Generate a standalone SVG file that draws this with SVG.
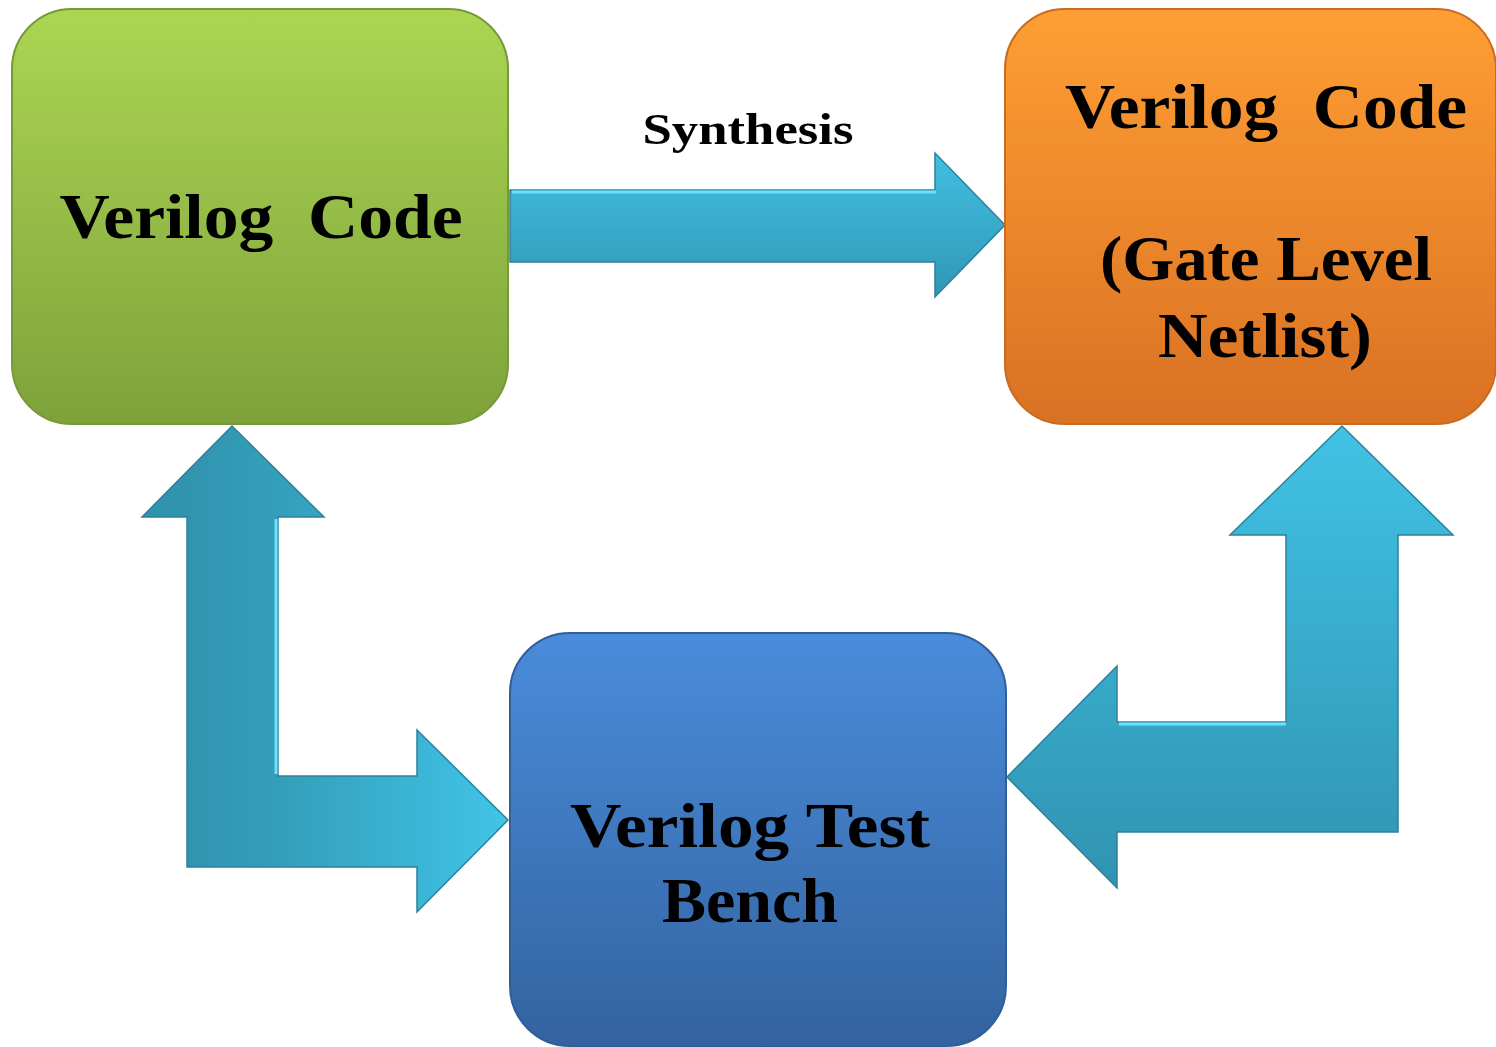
<svg xmlns="http://www.w3.org/2000/svg" width="1496" height="1047" viewBox="0 0 1496 1047">
  <defs>
    <linearGradient id="gGreen" x1="0" y1="0" x2="0" y2="1">
      <stop offset="0" stop-color="#abd652"/>
      <stop offset="1" stop-color="#7ea23b"/>
    </linearGradient>
    <linearGradient id="gOrange" x1="0" y1="0" x2="0" y2="1">
      <stop offset="0" stop-color="#ff9e34"/>
      <stop offset="1" stop-color="#d97123"/>
    </linearGradient>
    <linearGradient id="gBlue" x1="0" y1="0" x2="0" y2="1">
      <stop offset="0" stop-color="#4a8cdb"/>
      <stop offset="1" stop-color="#33639f"/>
    </linearGradient>
    <linearGradient id="aTop" x1="0" y1="0" x2="0" y2="1">
      <stop offset="0" stop-color="#41bfe2"/>
      <stop offset="1" stop-color="#3197b4"/>
    </linearGradient>
    <linearGradient id="aLeft" gradientUnits="userSpaceOnUse" x1="187" y1="0" x2="508" y2="0">
      <stop offset="0" stop-color="#3194af"/>
      <stop offset="0.3" stop-color="#349fbb"/>
      <stop offset="1" stop-color="#41c4e7"/>
    </linearGradient>
    <linearGradient id="aRight" gradientUnits="userSpaceOnUse" x1="0" y1="426" x2="0" y2="888">
      <stop offset="0" stop-color="#41c2e5"/>
      <stop offset="1" stop-color="#3093b0"/>
    </linearGradient>
  </defs>
  <style>
    .box { stroke-width: 2; }
    .arrow { stroke: #2c8199; stroke-width: 1.5; stroke-linejoin: miter; }
    .hl { fill: none; stroke: #6fe0fb; stroke-width: 3; stroke-linejoin: miter; }
    .t { font-family: "Liberation Serif", "Times New Roman", serif; font-weight: bold; fill: #000; text-anchor: middle; }
  </style>
  <rect width="1496" height="1047" fill="#ffffff"/>

  <g id="connectors">
    <g id="synthesis-arrow">
      <polygon class="arrow" fill="url(#aTop)" points="510,190 935,190 935,153 1005,225 935,297 935,262 510,262"/>
      <polyline class="hl" points="512,192 936,192"/>
      <text class="t" x="748" y="144" font-size="44" textLength="211" lengthAdjust="spacingAndGlyphs">Synthesis</text>
    </g>
    <g id="left-arrow">
      <polygon class="arrow" fill="url(#aLeft)" points="232,426 324,517 278,517 278,776 417,776 417,730 508,820 417,912 417,867 187,867 187,517 142,517"/>
      <polyline class="hl" points="276,519 276,774"/>
    </g>
    <g id="right-arrow">
      <polygon class="arrow" fill="url(#aRight)" points="1342,426 1453,535 1398,535 1398,832 1117,832 1117,888 1007,777 1117,666 1117,722 1286,722 1286,535 1230,535"/>
      <polyline class="hl" points="1119,724 1286,724"/>
    </g>
  </g>

  <g id="node-verilog-code">
    <rect class="box" x="12" y="9" width="496" height="415" rx="60" ry="60" fill="url(#gGreen)" stroke="#77993a"/>
    <text class="t" x="261" y="238" font-size="64" textLength="403" lengthAdjust="spacingAndGlyphs">Verilog&#160; Code</text>
  </g>

  <g id="node-gate-level">
    <rect class="box" x="1005" y="9" width="491" height="415" rx="60" ry="60" fill="url(#gOrange)" stroke="#c96c22"/>
    <text class="t" x="1266" y="128" font-size="64" textLength="402" lengthAdjust="spacingAndGlyphs">Verilog&#160; Code</text>
    <text class="t" x="1266" y="280" font-size="64" textLength="332" lengthAdjust="spacingAndGlyphs">(Gate Level</text>
    <text class="t" x="1265" y="357" font-size="64" textLength="214" lengthAdjust="spacingAndGlyphs">Netlist)</text>
  </g>

  <g id="node-test-bench">
    <rect class="box" x="510" y="633" width="496" height="413" rx="60" ry="60" fill="url(#gBlue)" stroke="#2f5e98"/>
    <text class="t" x="750" y="847" font-size="64" textLength="360" lengthAdjust="spacingAndGlyphs">Verilog Test</text>
    <text class="t" x="750" y="922" font-size="64" textLength="176" lengthAdjust="spacingAndGlyphs">Bench</text>
  </g>
</svg>
